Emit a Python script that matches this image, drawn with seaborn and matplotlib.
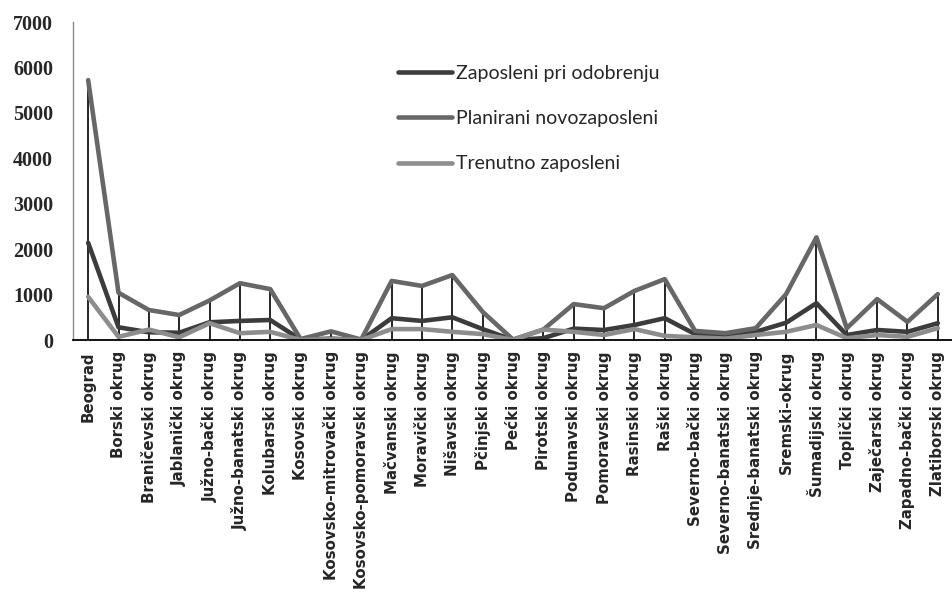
import matplotlib
matplotlib.use("Agg")
import matplotlib.pyplot as plt
import seaborn as sns
import pandas as pd

okruzi = [
    "Beograd", "Borski okrug", "Braničevski okrug", "Jablanički okrug",
    "Južno-bački okrug", "Južno-banatski okrug", "Kolubarski okrug",
    "Kosovski okrug", "Kosovsko-mitrovački okrug", "Kosovsko-pomoravski okrug",
    "Mačvanski okrug", "Moravički okrug", "Nišavski okrug", "Pčinjski okrug",
    "Pećki okrug", "Pirotski okrug", "Podunavski okrug", "Pomoravski okrug",
    "Rasinski okrug", "Raški okrug", "Severno-bački okrug",
    "Severno-banatski okrug", "Srednje-banatski okrug", "Sremski-okrug",
    "Šumadijski okrug", "Toplički okrug", "Zaječarski okrug",
    "Zapadno-bački okrug", "Zlatiborski okrug",
]

zaposleni_pri_odobrenju = [2140, 280, 170, 160, 390, 420, 440, 10, 30, 0,
                           480, 420, 500, 240, 0, 40, 250, 220, 330, 480,
                           130, 90, 180, 380, 810, 110, 220, 180, 370]
planirani_novozaposleni = [5720, 1040, 660, 550, 870, 1250, 1120, 20, 190, 10,
                           1300, 1190, 1430, 620, 10, 230, 790, 700, 1080, 1340,
                           200, 150, 260, 1010, 2260, 260, 900, 400, 1010]
trenutno_zaposleni = [950, 70, 230, 60, 370, 150, 180, 0, 20, 0,
                      240, 240, 180, 130, 0, 230, 180, 110, 240, 90,
                      60, 30, 110, 180, 330, 40, 110, 70, 260]

serije = ["Zaposleni pri odobrenju", "Planirani novozaposleni", "Trenutno zaposleni"]
boje = ["#3c3c3c", "#676767", "#8d8d8d"]
y_ticks = [0, 1000, 2000, 3000, 4000, 5000, 6000, 7000]

df = pd.concat([
    pd.DataFrame({"okrug": okruzi, "broj": vals, "serija": name})
    for name, vals in zip(serije, [zaposleni_pri_odobrenju,
                                   planirani_novozaposleni,
                                   trenutno_zaposleni])
], ignore_index=True)

sns.set_style("white")

fig = plt.figure(figsize=(9.53, 5.92), dpi=100)
ax = fig.add_axes([73 / 953, 1 - 340 / 592, 1 - 73 / 953, (340 - 22) / 592])

# drop lines from the highest series down to the category axis
najvise = df.groupby("okrug", sort=False)["broj"].max().reindex(okruzi)
ax.vlines(okruzi, 0, najvise.values, color="black", lw=1.2, zorder=1)

sns.lineplot(data=df, x="okrug", y="broj", hue="serija", hue_order=serije,
             palette=boje, sort=False, lw=3.3, ax=ax, zorder=2)

ax.set_xlim(-0.5, len(okruzi) - 0.5)
ax.set_ylim(0, 7000)
ax.set_yticks(y_ticks)
ax.set_yticklabels([str(v) for v in y_ticks], fontfamily="Liberation Serif",
                   fontweight="bold", fontsize=14.5)
ax.tick_params(axis="y", length=0, pad=14.4)
ax.tick_params(axis="x", length=0, pad=8)
plt.setp(ax.get_xticklabels(), rotation=90, family=["DejaVu Sans"],
         fontweight="bold", fontsize=10.8)
ax.set_xlabel("")
ax.set_ylabel("")

for s in ["top", "right"]:
    ax.spines[s].set_visible(False)
ax.spines["left"].set_color("#8a8a8a")
ax.spines["left"].set_linewidth(1.0)
ax.spines["bottom"].set_color("black")
ax.spines["bottom"].set_linewidth(1.3)

leg = ax.legend(loc="upper left", bbox_to_anchor=(325 / 880, 1 - 43 / 318),
                frameon=False, handlelength=2.8, handletextpad=0.2,
                labelspacing=1.45, borderaxespad=0, borderpad=0,
                prop={"family": ["Lato", "DejaVu Sans"], "size": 14})
for line in leg.get_lines():
    line.set_linewidth(3.3)

fig.savefig("out.png", dpi=100)
